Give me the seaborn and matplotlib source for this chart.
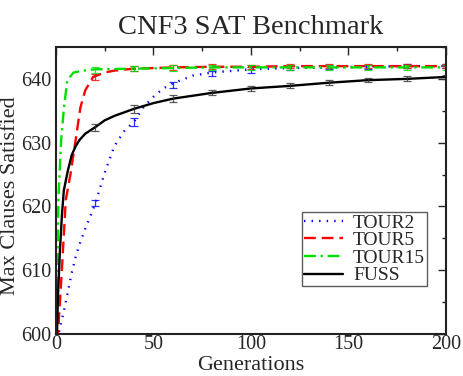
import numpy as np
import pandas as pd
import matplotlib
matplotlib.use("Agg")
import matplotlib.pyplot as plt
import seaborn as sns

# curve readings (generation, max clauses satisfied)
gen_tour2 = [0, 2, 4, 6, 8, 10, 12, 15, 20, 25, 30, 35, 40, 45, 50, 55, 60, 70, 80, 100, 120, 140, 160, 180, 200]
val_tour2 = [598, 601, 603.5, 606.5, 609.5, 612, 614, 616.5, 620.3, 625.3, 629.5, 631.8, 633.3, 635.6, 637.2,
             638.5, 639.3, 640.5, 641.0, 641.5, 641.7, 641.8, 641.9, 642.0, 642.0]

gen_tour5 = [0, 1, 3, 5, 7.5, 10, 12.5, 15, 19, 25, 30, 40, 60, 80, 100, 120, 140, 160, 180, 200]
val_tour5 = [596, 600, 610, 621, 625.2, 630.3, 635.5, 638.2, 640.3, 641.0, 641.3, 641.6, 641.8, 641.9,
             641.9, 642.0, 642.0, 642.0, 642.0, 642.0]

gen_tour15 = [0, 0.3, 1.2, 2.6, 4.1, 5.8, 9, 14, 20, 40, 60, 80, 100, 120, 140, 160, 180, 200]
val_tour15 = [596, 600, 621, 630.3, 635.6, 639.8, 641.0, 641.3, 641.5, 641.6, 641.7, 641.8, 641.8,
              641.8, 641.8, 641.8, 641.8, 641.8]

gen_fuss = [0, 0.5, 1, 2, 3, 4, 6, 8, 10, 12, 15, 20, 25, 30, 40, 50, 60, 80, 100, 120, 140, 160, 180, 200]
val_fuss = [596, 600, 606, 613, 618.5, 622.5, 625.5, 628, 629.4, 630.4, 631.4, 632.4, 633.5, 634.2, 635.3,
            636.2, 636.9, 637.8, 638.5, 638.9, 639.4, 639.8, 640.0, 640.3]

# error bars every 20 generations
err_gen = [20, 40, 60, 80, 100, 120, 140, 160, 180, 200]
err_tour2_y = [620.5, 633.2, 639.0, 640.8, 641.4, 641.7, 641.8, 641.9, 642.0, 642.0]
err_tour2_e = [0.5, 0.6, 0.5, 0.4, 0.4, 0.3, 0.3, 0.3, 0.3, 0.3]
err_tour5_y = [640.3, 641.6, 641.8, 641.9, 641.9, 642.0, 642.0, 642.0, 642.0, 642.0]
err_tour5_e = [0.5, 0.4, 0.4, 0.4, 0.3, 0.3, 0.3, 0.3, 0.3, 0.3]
err_tour15_y = [641.4, 641.6, 641.7, 641.8, 641.8, 641.8, 641.8, 641.8, 641.8, 641.8]
err_tour15_e = [0.4, 0.4, 0.4, 0.4, 0.4, 0.4, 0.4, 0.4, 0.4, 0.4]
err_fuss_y = [632.4, 635.3, 636.9, 637.8, 638.5, 638.9, 639.4, 639.8, 640.0, 640.3]
err_fuss_e = [0.6, 0.6, 0.5, 0.4, 0.4, 0.4, 0.4, 0.3, 0.4, 0.3]

sns.set_style("white")
plt.rcParams['font.family'] = ['Liberation Serif', 'DejaVu Serif']

fig = plt.figure(figsize=(4.63, 3.76), dpi=100)
ax = fig.add_axes([0.121, 0.112, 0.842, 0.763])

series = [
    ("TOUR2", gen_tour2, val_tour2, "#0000ff", (0, (0.6, 2.6)), err_tour2_y, err_tour2_e),
    ("TOUR5", gen_tour5, val_tour5, "#ff0000", (0, (5, 2.5)), err_tour5_y, err_tour5_e),
    ("TOUR15", gen_tour15, val_tour15, "#00e000", (0, (5, 2, 1, 2)), err_tour15_y, err_tour15_e),
    ("FUSS", gen_fuss, val_fuss, "#000000", "-", err_fuss_y, err_fuss_e),
]

for name, g, v, col, ls, ey, ee in series:
    df = pd.DataFrame({"Generations": g, "Clauses": v})
    sns.lineplot(data=df, x="Generations", y="Clauses", ax=ax, color=col,
                 linestyle=ls, linewidth=1.7, label=name)
    ecol = col if name != "FUSS" else "#333333"
    ax.errorbar(err_gen, ey, yerr=ee, fmt="none", ecolor=ecol, elinewidth=0.9,
                capsize=3, capthick=0.9, alpha=0.8)

ax.set_xlim(0, 200)
ax.set_ylim(600, 645)
ax.set_xticks([0, 50, 100, 150, 200])
ax.set_xticks([25, 75, 125, 175], minor=True)
ax.set_yticks([600, 610, 620, 630, 640])
ax.set_yticks([605, 615, 625, 635, 645], minor=True)
ax.tick_params(which="major", direction="in", length=6, width=1, top=True, right=True,
               labelsize=14.5, pad=1)
ax.tick_params(axis="y", which="major", pad=3.5)
ax.tick_params(which="minor", direction="in", length=3, width=1, top=True, right=True)
for sp in ax.spines.values():
    sp.set_linewidth(1.5)
    sp.set_color("#222222")

ax.set_xlabel("Generations", fontsize=16, labelpad=1)
ax.set_ylabel("Max Clauses Satisfied", fontsize=16, va="center")
ax.yaxis.set_label_coords(-0.117, 0.48)
ax.set_title("CNF3 SAT Benchmark", fontsize=20.5, pad=9)

leg = ax.legend(loc="upper left", bbox_to_anchor=(0.632, 0.425), fontsize=14,
                frameon=True, fancybox=False, handlelength=2.0, handletextpad=0.5,
                borderpad=0.1, labelspacing=0.0, borderaxespad=0)
leg.get_frame().set_edgecolor("#333333")
leg.get_frame().set_linewidth(1.0)

fig.savefig("out.png", dpi=100)
